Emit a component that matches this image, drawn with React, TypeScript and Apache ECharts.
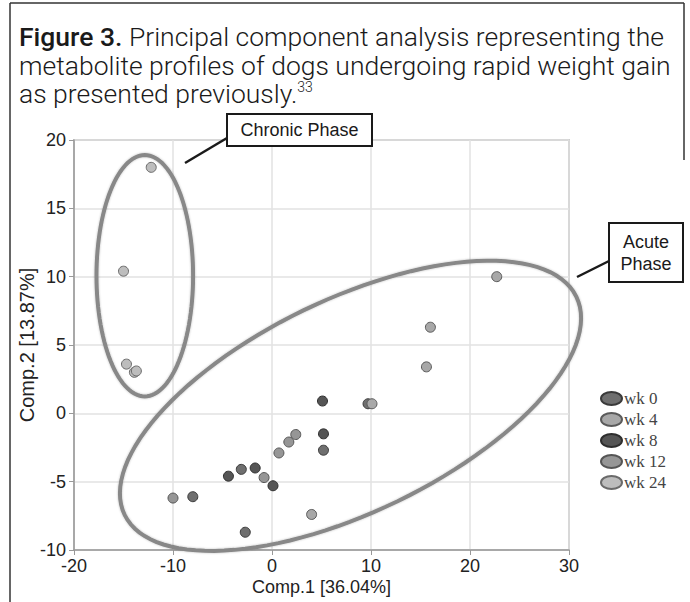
import React, { useEffect, useRef } from "react";
import * as echarts from "echarts";

// ---- data ----
const weekNames = ["wk 0", "wk 4", "wk 8", "wk 12", "wk 24"];
const wk0Points = [[-3.1, -4.1], [-8.0, -6.1], [-2.7, -8.7], [5.2, -2.7], [9.7, 0.7]];
const wk4Points = [[22.7, 10.0], [16.0, 6.3], [15.6, 3.4], [10.1, 0.7], [4.0, -7.4]];
const wk8Points = [[5.1, 0.9], [5.2, -1.5], [-4.4, -4.6], [-1.7, -4.0], [0.1, -5.3]];
const wk12Points = [[2.4, -1.55], [1.7, -2.1], [0.7, -2.9], [-0.8, -4.7], [-10.0, -6.2]];
const wk24Points = [[-12.2, 18.0], [-15.0, 10.4], [-14.7, 3.6], [-13.9, 3.0], [-13.7, 3.1]];
const weekPoints = [wk0Points, wk4Points, wk8Points, wk12Points, wk24Points];
const weekFill = ["#6f6f6f", "#a8a8a8", "#555555", "#969696", "#bdbdbd"];
const weekBorder = ["#3a3a3a", "#5a5a5a", "#2e2e2e", "#555555", "#6a6a6a"];

// ellipses: [centerX, centerY, axis1X, axis1Y, axis2X, axis2Y] in data units
const chronicEllipse = [-12.85, 10.07, 4.88, 0, 0, 8.83];
const acuteEllipse = [7.93, 0.55, 22.8, 8.0, -4.76, 6.98];

const xTicks = { min: -20, max: 30, interval: 10 };
const yTicks = { min: -10, max: 20, interval: 5 };

const titleLines = [
  "{b|Figure 3.} Principal component analysis representing the",
  "metabolite profiles of dogs undergoing rapid weight gain",
  "as presented previously.{sup|33}",
];

export default function App() {
  const ref = useRef<HTMLDivElement>(null);
  useEffect(() => {
    document.body.style.margin = "0";
    const chart = echarts.init(ref.current!, undefined, { renderer: "svg" });
    const titleFont = "Roboto";
    const rich = {
      b: { fontFamily: titleFont, fontWeight: 500, fontSize: 26.5, color: "#1a1a1a" },
      sup: { fontFamily: titleFont, fontWeight: 300, fontSize: 14, color: "#1a1a1a", verticalAlign: "top", padding: [0, 0, 9, 0] },
    };
    const titleGraphics = titleLines.map((t, i) => ({
      type: "text",
      left: 19,
      top: 23 + i * 28.5,
      z: 10,
      style: {
        text: t,
        fontFamily: titleFont,
        fontWeight: 300,
        fontSize: 26.5,
        fill: "#1a1a1a",
        rich,
      },
    }));

    const scatterSeries = weekNames.map((name, i) => ({
      name,
      type: "scatter",
      data: weekPoints[i],
      symbol: "circle",
      symbolSize: 10,
      z: i === 1 || i === 3 ? 4 : 3,
      itemStyle: { color: weekFill[i], borderColor: weekBorder[i], borderWidth: 1, opacity: 1 },
    }));

    const ellipseSeries = {
      type: "custom",
      silent: true,
      z: 2,
      encode: { x: 0, y: 1 },
      data: [chronicEllipse, acuteEllipse],
      renderItem: (params: any, api: any) => {
        const cx = api.value(0), cy = api.value(1);
        const ax = api.value(2), ay = api.value(3), bx = api.value(4), by = api.value(5);
        const pts: number[][] = [];
        const n = 120;
        for (let k = 0; k <= n; k++) {
          const t = (k / n) * Math.PI * 2;
          pts.push(api.coord([cx + ax * Math.cos(t) + bx * Math.sin(t), cy + ay * Math.cos(t) + by * Math.sin(t)]));
        }
        return {
          type: "polygon",
          shape: { points: pts },
          style: { fill: "none", stroke: "#888888", lineWidth: 4, shadowBlur: 2, shadowColor: "rgba(0,0,0,0.25)" },
        };
      },
    };

    const legendIcon = "path://M0,6.5a10.5,6.5 0 1,0 21,0a10.5,6.5 0 1,0 -21,0z";

    chart.setOption({
      animation: false,
      backgroundColor: "#ffffff",
      grid: { left: 74, right: 121, top: 140, bottom: 52, show: true, borderColor: "#a8a8a8", borderWidth: 1.5, backgroundColor: "transparent" },
      xAxis: {
        type: "value",
        min: xTicks.min,
        max: xTicks.max,
        interval: xTicks.interval,
        name: "Comp.1 [36.04%]",
        nameLocation: "middle",
        nameGap: 28,
        nameMoveOverlap: false,
        nameTextStyle: { fontFamily: "Liberation Sans", fontSize: 18, color: "#222" },
        axisLine: { show: true, onZero: false, lineStyle: { color: "#999", width: 1.5 } },
        axisTick: { show: true, length: 5, lineStyle: { color: "#999" } },
        axisLabel: { fontFamily: "Liberation Sans", fontSize: 18, color: "#222", margin: 7 },
        splitLine: { show: true, lineStyle: { color: "#e2e2e2", width: 1.5 } },
      },
      yAxis: {
        type: "value",
        min: yTicks.min,
        max: yTicks.max,
        interval: yTicks.interval,
        name: "Comp.2 [13.87%]",
        nameLocation: "middle",
        nameGap: 37,
        nameMoveOverlap: false,
        nameTextStyle: { fontFamily: "Liberation Sans", fontSize: 20, color: "#222" },
        axisLine: { show: true, onZero: false, lineStyle: { color: "#999", width: 1.5 } },
        axisTick: { show: true, length: 5, lineStyle: { color: "#999" } },
        axisLabel: { fontFamily: "Liberation Sans", fontSize: 18, color: "#222", margin: 8 },
        splitLine: { show: true, lineStyle: { color: "#e2e2e2", width: 1.5 } },
      },
      legend: {
        data: weekNames,
        orient: "vertical",
        left: 595,
        top: 385,
        icon: legendIcon,
        itemWidth: 21,
        itemHeight: 13,
        itemGap: 4,
        selectedMode: false,
        textStyle: { fontFamily: "Liberation Serif", fontSize: 17, color: "#444", lineHeight: 17, padding: [0, 0, 0, -3] },
      },
      series: [ellipseSeries, ...scatterSeries],
      graphic: [
        // frame
        { type: "line", z: 10, shape: { x1: 10, y1: 3, x2: 10, y2: 602 }, style: { stroke: "#333", lineWidth: 1.5 } },
        { type: "line", z: 10, shape: { x1: 10, y1: 3, x2: 684, y2: 3 }, style: { stroke: "#333", lineWidth: 1.5 } },
        { type: "line", z: 10, shape: { x1: 684, y1: 3, x2: 684, y2: 160 }, style: { stroke: "#333", lineWidth: 1.5 } },
        ...titleGraphics,
        // Chronic callout
        { type: "line", z: 20, shape: { x1: 185, y1: 163, x2: 227, y2: 138 }, style: { stroke: "#1a1a1a", lineWidth: 2.5 } },
        { type: "rect", z: 20, shape: { x: 227, y: 114, width: 145, height: 32 }, style: { fill: "#fff", stroke: "#1a1a1a", lineWidth: 2 } },
        { type: "text", z: 21, x: 299.5, y: 130, style: { text: "Chronic Phase", fontFamily: "Liberation Sans", fontSize: 18, fill: "#1a1a1a", align: "center", verticalAlign: "middle" } },
        // Acute callout
        { type: "line", z: 20, shape: { x1: 577, y1: 277, x2: 609, y2: 261 }, style: { stroke: "#1a1a1a", lineWidth: 2.5 } },
        { type: "rect", z: 20, shape: { x: 609, y: 223, width: 74, height: 59 }, style: { fill: "#fff", stroke: "#1a1a1a", lineWidth: 2 } },
        { type: "text", z: 21, x: 646, y: 252.5, style: { text: "Acute\nPhase", fontFamily: "Liberation Sans", fontSize: 18, lineHeight: 22, fill: "#1a1a1a", align: "center", verticalAlign: "middle" } },
      ],
    } as any);
    return () => chart.dispose();
  }, []);
  return <div ref={ref} style={{ width: 690, height: 602 }} />;
}
